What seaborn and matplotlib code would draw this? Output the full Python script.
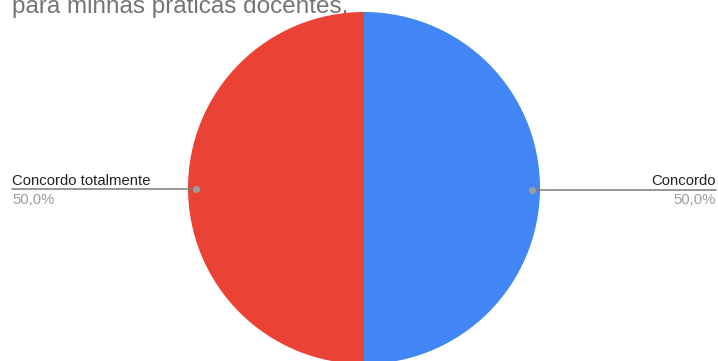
import matplotlib
matplotlib.use('Agg')
import matplotlib.pyplot as plt
import seaborn as sns
import numpy as np
from matplotlib.lines import Line2D

# =====================================
# DATA
# =====================================

categorias = ['Concordo', 'Concordo totalmente']
valores = [50.0, 50.0]
cores = ['#4285f4', '#ea4335']
titulo = 'para minhas práticas docentes.'

# =====================================
# FIGURE
# =====================================

sns.set_theme(style='white')
plt.rcParams['font.family'] = ['Liberation Sans', 'DejaVu Sans']

W, H = 718, 361
fig = plt.figure(figsize=(W / 100, H / 100), dpi=100)
fig.patch.set_facecolor('white')

# centro da pizza ~ (363, 188) px, raio ~ 176 px
cx, cy, r = 364, 188, 176
ax = fig.add_axes([(cx - r) / W, (H - cy - r) / H, 2 * r / W, 2 * r / H])

wedges, _ = ax.pie(
    valores,
    colors=cores,
    startangle=90,
    counterclock=False,
    radius=1.0,
    wedgeprops=dict(linewidth=0)
)
ax.set_xlim(-1, 1)
ax.set_ylim(-1, 1)
ax.set_aspect('equal')
ax.axis('off')

# =====================================
# RÓTULOS + LINHAS
# =====================================

total = sum(valores)
for w, cat, val in zip(wedges, categorias, valores):
    ang = np.deg2rad((w.theta1 + w.theta2) / 2)
    dx, dy = np.cos(ang), np.sin(ang)
    px, py = ax.transData.transform((0.955 * dx, 0.955 * dy))
    py = H - py + 1.5  # pixels a partir do topo
    if dx > 0:
        x_end, ha = W - 2, 'right'
    else:
        x_end, ha = 12, 'left'
    fig.add_artist(Line2D(
        [px / W, x_end / W], [1 - py / H, 1 - py / H],
        transform=fig.transFigure, color='#7a7a7a', linewidth=1.1
    ))
    fig.add_artist(Line2D(
        [px / W], [1 - py / H], transform=fig.transFigure,
        marker='o', markersize=4, color='#9e9e9e', linewidth=0
    ))
    pct = f'{val / total * 100:.1f}%'.replace('.', ',')
    fig.text(x_end / W, 1 - (py - 4.5) / H, cat, ha=ha, va='baseline',
             fontsize=10.7, color='#222222')
    fig.text(x_end / W, 1 - (py + 15) / H, pct, ha=ha, va='baseline',
             fontsize=10.7, color='#9e9e9e')

fig.text(12 / W, 1 - 12.5 / H, titulo, ha='left', va='baseline',
         fontsize=17.5, color='#757575')

fig.savefig('out.png', dpi=100)
